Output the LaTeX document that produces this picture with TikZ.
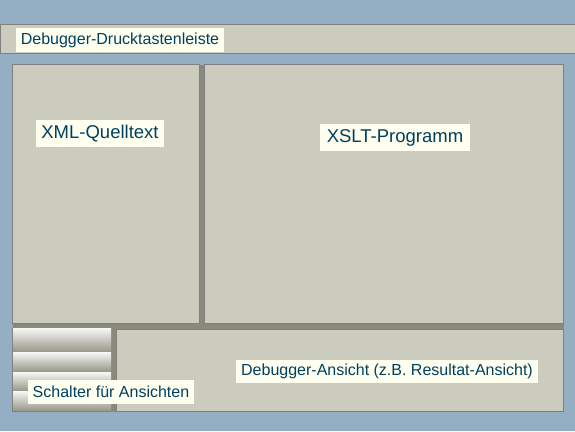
\documentclass[tikz,border=0pt]{standalone}
\usepackage{fontspec}
\setmainfont{Liberation Sans}
\usepackage{tikz}
\definecolor{bgblue}{HTML}{94AFC3}
\definecolor{panelgray}{HTML}{CBCBBE}
\definecolor{framegray}{HTML}{8A8A7A}
\definecolor{edgegray}{HTML}{808080}
\definecolor{labelfill}{HTML}{FFFFF0}
\definecolor{labeltext}{HTML}{00405F}
\tikzset{
  panel/.style={fill=panelgray, draw=edgegray, line width=1pt},
  tag/.style={fill=labelfill, text=labeltext, inner sep=0pt, font=\fontsize{16}{18}\selectfont},
  bigtag/.style={tag, font=\fontsize{18.5}{20}\selectfont},
}

\begin{document}
\begin{tikzpicture}[x=1pt, y=-1pt]
		\useasboundingbox (0,0) rectangle (575,431);
		\fill[bgblue] (0,0) rectangle (575,431);

		% toolbar
		\draw[panel] (0.5,24.5) rectangle (576,53.5);

		% main frame
		\fill[framegray] (12.5,64.5) rectangle (563.5,411.5);
		\draw[panel] (12.5,64.5)  rectangle (199.5,323.5);
		\draw[panel] (204.5,64.5) rectangle (563.5,323.5);
		\draw[panel] (116.5,329.5) rectangle (563.5,411.5);

		% view switches
		\foreach \top/\bot in {328/352, 352/372, 372/391, 391/411}
			\shade[top color=white!85!panelgray, middle color=panelgray!90!black, bottom color=framegray!90!white]
				(12.5,\top) rectangle (111,\bot);
		\draw[edgegray, line width=1pt] (12.5,328) -- (12.5,411.5) -- (111,411.5);

		% labels
		\node[tag, minimum width=208, minimum height=24]    (bar)  at (120,40)    {Debugger-Drucktastenleiste};
		\node[bigtag, minimum width=128, minimum height=27] (xml)  at (100,133.5) {XML-Quelltext};
		\node[bigtag, minimum width=150, minimum height=27] (xslt) at (395,137.5) {XSLT-Programm};
		\node[tag, minimum width=166, minimum height=24]    (sw)   at (111,392)   {Schalter für Ansichten};
		\node[tag, minimum width=302, minimum height=23]    (view) at (387,371.5) {Debugger-Ansicht (z.B. Resultat-Ansicht)};
	\end{tikzpicture}
\end{document}
